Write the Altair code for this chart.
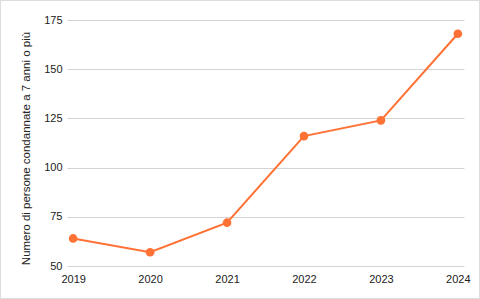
import altair as alt
import pandas as pd

years = ["2019", "2020", "2021", "2022", "2023", "2024"]
values = [64, 57, 72, 116, 124, 168]
y_ticks = [50, 75, 100, 125, 150, 175]

df = pd.DataFrame({"anno": years, "valore": values})

FONT = "Liberation Sans"
ORANGE = "#FF7134"

base = alt.Chart(df).encode(
    x=alt.X(
        "anno:O",
        scale=alt.Scale(type="point", padding=0.08),
        axis=alt.Axis(
            title=None, labelAngle=0, ticks=False, domain=False,
            labelPadding=7, labelFontSize=11, labelColor="#222222",
            labelFont=FONT, grid=False,
        ),
    ),
    y=alt.Y(
        "valore:Q",
        scale=alt.Scale(domain=[50, 175], nice=False, zero=False),
        axis=alt.Axis(
            title="Numero di persone condannate a 7 anni o più",
            values=y_ticks, ticks=False, domain=False, labelPadding=5,
            labelFontSize=11, labelColor="#222222", labelFont=FONT,
            titleFontSize=11.5, titleFont=FONT, titleColor="#222222",
            titleFontWeight="normal", titleX=-41, titleY=128,
            titleAlign="center", titleBaseline="middle", titleAngle=270,
            gridColor="#d4d4d4", gridWidth=1,
        ),
    ),
)

line = base.mark_line(color=ORANGE, strokeWidth=2)
points = base.mark_point(color=ORANGE, filled=True, size=75, opacity=1)

frame = alt.Chart(df).mark_rect(
    fill=None, stroke="#dddddd", strokeWidth=1
).encode(
    x=alt.value(-66.5), x2=alt.value(412.5),
    y=alt.value(-19.5), y2=alt.value(278.5),
)

chart = alt.layer(line, points, frame).properties(
    width=397,
    height=246,
    autosize=alt.AutoSizeParams(type="none"),
    padding={"left": 67, "top": 20, "right": 16, "bottom": 33},
    background="white",
).configure_view(stroke=None)

chart.save("out.html", embed_options={"renderer": "svg", "actions": False})
